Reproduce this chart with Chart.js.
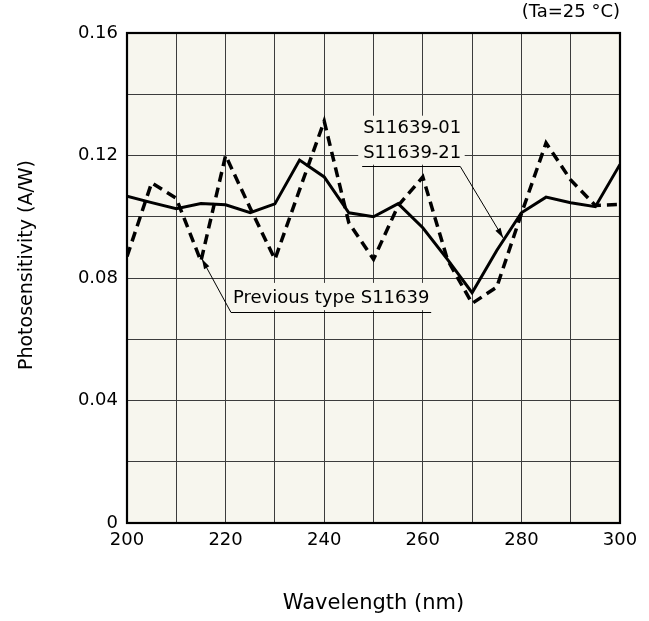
<!DOCTYPE html>
<html>
<head>
<meta charset="utf-8">
<script src="https://cdn.jsdelivr.net/npm/chart.js@4/dist/chart.umd.min.js"></script>
<style>
html,body{margin:0;padding:0;background:#ffffff;}
#wrap{width:649px;height:621px;}
</style>
</head>
<body>
<div id="wrap"><canvas id="c" width="649" height="621"></canvas></div>
<script>
// ---- data ----
const wavelengths = [200,205,210,215,220,225,230,235,240,245,250,255,260,265,270,275,280,285,290,295,300];
const newTypeSens = [0.1067,0.1046,0.1026,0.1043,0.1039,0.1013,0.1042,0.1185,0.1130,0.1013,0.1000,0.1043,0.0964,0.0861,0.0752,0.0890,0.1013,0.1064,0.1046,0.1033,0.1171];
const prevTypeSens = [0.0870,0.1111,0.1060,0.0855,0.1200,0.1028,0.0861,0.1088,0.1312,0.0980,0.0861,0.1036,0.1130,0.0860,0.0717,0.0770,0.1010,0.1241,0.1120,0.1037,0.1040];
const xTickLabels = [200,220,240,260,280,300];
const yTickLabels = [0,0.04,0.08,0.12,0.16];
const newTypeName = 'S11639-01 / S11639-21';
const prevTypeName = 'Previous type S11639';
const xTitle = 'Wavelength (nm)';
const yTitle = 'Photosensitivity (A/W)';

const FONT = "'DejaVu Sans', Verdana, sans-serif";
const PLOT_BG = '#f7f6ee';
const GRID = '#3c3c3c';

const toPoints = (xs, ys) => xs.map((x, i) => ({x: x, y: ys[i]}));

const bgPlugin = {
  id: 'plotBg',
  beforeDraw(chart) {
    const {ctx, chartArea: a} = chart;
    ctx.save();
    ctx.fillStyle = PLOT_BG;
    ctx.fillRect(a.left, a.top, a.right - a.left, a.bottom - a.top);
    ctx.restore();
  }
};

const frameAndNotes = {
  id: 'frameAndNotes',
  afterDraw(chart) {
    const {ctx, chartArea: a} = chart;
    const xs = chart.scales.x, ys = chart.scales.y;
    const px = v => xs.getPixelForValue(v);
    const py = v => ys.getPixelForValue(v);

    // frame
    ctx.save();
    ctx.strokeStyle = '#000';
    ctx.lineWidth = 2.2;
    ctx.strokeRect(a.left, a.top, a.right - a.left, a.bottom - a.top);
    ctx.restore();

    // y axis title
    ctx.save();
    ctx.fillStyle = '#000';
    ctx.font = "19px " + FONT;
    ctx.textAlign = 'center';
    ctx.textBaseline = 'middle';
    ctx.translate(27, 265);
    ctx.rotate(-Math.PI / 2);
    ctx.fillText(yTitle, 0, 0);
    ctx.restore();

    // condition text
    ctx.save();
    ctx.fillStyle = '#000';
    ctx.font = "18px " + FONT;
    ctx.textAlign = 'right';
    ctx.textBaseline = 'middle';
    ctx.fillText('(Ta=25 °C)', a.right, 12);
    ctx.restore();

    const notes = [
      {lines: ['S11639-01', 'S11639-21'], tx: 247.9, ty: [0.1290, 0.1208],
       box: [246.9, 0.1330, 268.5, 0.1170], ul: [247.7, 267.6, 0.1166], tip: [276.3, 0.0931]},
      {lines: [prevTypeName], tx: 221.5, ty: [0.0735],
       box: [220.6, 0.0784, 262.1, 0.0695], ul: [221.1, 261.7, 0.0689], tip: [215.2, 0.0862], fromLeft: true}
    ];
    notes.forEach(n => {
      ctx.save();
      ctx.fillStyle = PLOT_BG;
      const bx1 = px(n.box[0]), by1 = py(n.box[1]), bx2 = px(n.box[2]), by2 = py(n.box[3]);
      ctx.fillRect(bx1, by1, bx2 - bx1, by2 - by1);
      ctx.fillStyle = '#000';
      ctx.font = "18px " + FONT;
      ctx.textAlign = 'left';
      ctx.textBaseline = 'middle';
      n.lines.forEach((t, i) => ctx.fillText(t, px(n.tx), py(n.ty[i])));
      // underline
      const uy = Math.round(py(n.ul[2])) + 0.5;
      ctx.strokeStyle = '#000';
      ctx.lineWidth = 1;
      ctx.beginPath();
      ctx.moveTo(px(n.ul[0]), uy);
      ctx.lineTo(px(n.ul[1]), uy);
      ctx.stroke();
      // leader
      const sx = n.fromLeft ? px(n.ul[0]) : px(n.ul[1]);
      const tx = px(n.tip[0]), ty = py(n.tip[1]);
      ctx.beginPath();
      ctx.moveTo(sx, uy);
      ctx.lineTo(tx, ty);
      ctx.stroke();
      // arrow head
      const ang = Math.atan2(ty - uy, tx - sx);
      const L = 10, W = 3;
      ctx.beginPath();
      ctx.moveTo(tx, ty);
      ctx.lineTo(tx - L * Math.cos(ang) + W * Math.sin(ang), ty - L * Math.sin(ang) - W * Math.cos(ang));
      ctx.lineTo(tx - L * Math.cos(ang) - W * Math.sin(ang), ty - L * Math.sin(ang) + W * Math.cos(ang));
      ctx.closePath();
      ctx.fill();
      ctx.restore();
    });
  }
};

const near = (v, arr) => arr.some(t => Math.abs(t - v) < 1e-6);

new Chart(document.getElementById('c'), {
  type: 'line',
  data: {
    datasets: [
      {label: newTypeName, data: toPoints(wavelengths, newTypeSens), borderColor: '#000', borderWidth: 3,
       pointRadius: 0, fill: false, tension: 0, order: 0},
      {label: prevTypeName, data: toPoints(wavelengths, prevTypeSens), borderColor: '#000', borderWidth: 3.5,
       borderDash: [10, 6], pointRadius: 0, fill: false, tension: 0, order: 1}
    ]
  },
  options: {
    responsive: false,
    animation: false,
    devicePixelRatio: 1,
    layout: {padding: {left: 0, right: 29, top: 33, bottom: 0}},
    plugins: {legend: {display: false}, tooltip: {enabled: false}},
    scales: {
      x: {
        type: 'linear', min: 200, max: 300,
        ticks: {stepSize: 10, autoSkip: false, maxRotation: 0, color: '#000', padding: 7,
                font: {family: FONT, size: 18},
                callback: v => near(v, xTickLabels) ? String(v) : ''},
        grid: {color: GRID, lineWidth: 1, drawTicks: false},
        border: {display: false},
        title: {display: true, text: xTitle, color: '#000', font: {family: FONT, size: 21},
                padding: {top: 0, bottom: 5}},
        afterFit(s) { s.height = 98; }
      },
      y: {
        type: 'linear', min: 0, max: 0.16,
        ticks: {stepSize: 0.02, autoSkip: false, color: '#000', padding: 9,
                font: {family: FONT, size: 18},
                callback: v => near(v, yTickLabels) ? (v === 0 ? '0' : v.toFixed(2)) : ''},
        grid: {color: GRID, lineWidth: 1, drawTicks: false},
        border: {display: false},
        title: {display: false, text: yTitle},
        afterFit(s) { s.width = 127; }
      }
    }
  },
  plugins: [bgPlugin, frameAndNotes]
});
</script>
</body>
</html>
